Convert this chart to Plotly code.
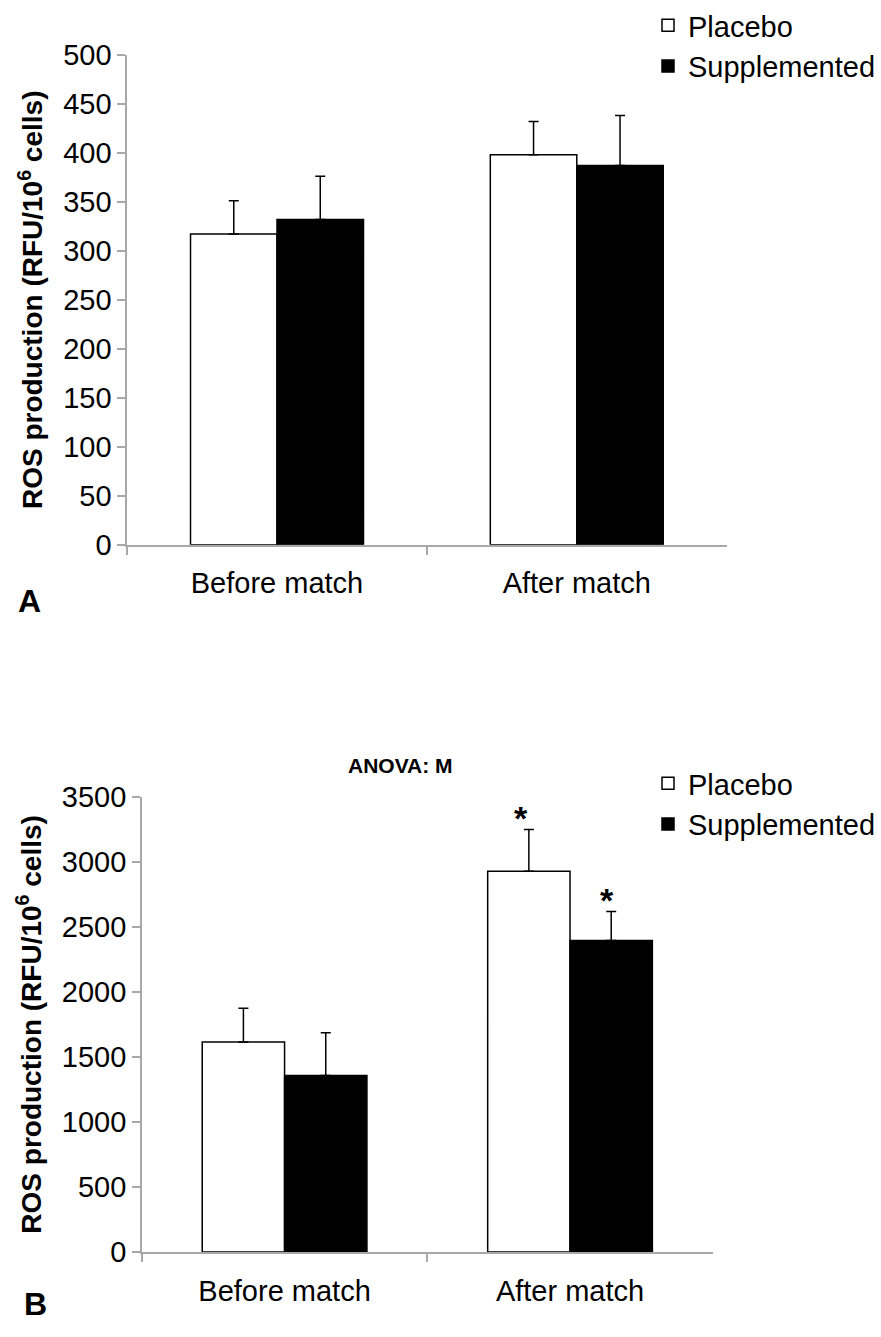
import plotly.graph_objects as go

W, H = 881, 1337

categories = ["Before match", "After match"]
series_names = ["Placebo", "Supplemented"]

# Panel A
a_placebo = [317, 398]
a_placebo_err = [34, 34]
a_supp = [332, 387]
a_supp_err = [44, 51]

# Panel B
b_placebo = [1614, 2927]
b_placebo_err = [261, 321]
b_supp = [1357, 2395]
b_supp_err = [329, 222]
b_significant_placebo = [False, True]
b_significant_supp = [False, True]

a_ticks = [0, 50, 100, 150, 200, 250, 300, 350, 400, 450, 500]
b_ticks = [0, 500, 1000, 1500, 2000, 2500, 3000, 3500]

FONT = "Liberation Sans, Arial, Helvetica, sans-serif"
AXIS_GRAY = "#a8a8a8"
FS = 29

def px_x(p):
    return p / W

def px_y(p):
    return 1 - p / H

fig = go.Figure()

def add_pair(xa, ya, plac, plac_err, supp, supp_err, legend):
    fig.add_trace(go.Bar(
        x=categories, y=plac, name=series_names[0],
        marker=dict(color="white", line=dict(color="black", width=1.5)),
        error_y=dict(type="data", array=plac_err, arrayminus=[0] * len(plac),
                     symmetric=False, color="black", thickness=1.5, width=5),
        xaxis=xa, yaxis=ya, legend=legend,
    ))
    fig.add_trace(go.Bar(
        x=categories, y=supp, name=series_names[1],
        marker=dict(color="black", line=dict(color="black", width=1.5)),
        error_y=dict(type="data", array=supp_err, arrayminus=[0] * len(supp),
                     symmetric=False, color="black", thickness=1.5, width=5),
        xaxis=xa, yaxis=ya, legend=legend,
    ))

add_pair("x", "y", a_placebo, a_placebo_err, a_supp, a_supp_err, "legend")
add_pair("x2", "y2", b_placebo, b_placebo_err, b_supp, b_supp_err, "legend2")

ytitle = "<b>ROS production (RFU/10<sup>6</sup> cells)</b>"

common_x = dict(
    type="category", showline=True, linecolor=AXIS_GRAY, linewidth=1.5,
    ticks="outside", tickson="boundaries", ticklen=8, tickcolor=AXIS_GRAY,
    tickwidth=1.5, showgrid=False, zeroline=False, ticklabelstandoff=12,
    tickfont=dict(family=FONT, size=FS, color="black"),
)
common_y = dict(
    showline=True, linecolor=AXIS_GRAY, linewidth=1.5,
    ticks="outside", ticklen=8, tickcolor=AXIS_GRAY, tickwidth=1.5,
    showgrid=False, zeroline=False,
    tickfont=dict(family=FONT, size=FS, color="black"),
    title=dict(text=ytitle, font=dict(family=FONT, size=28, color="black"), standoff=12),
)

fig.update_layout(
    width=W, height=H,
    margin=dict(l=0, r=0, t=0, b=0),
    paper_bgcolor="white", plot_bgcolor="white",
    barmode="group", bargap=0.423, bargroupgap=0,
    font=dict(family=FONT, color="black"),
    xaxis=dict(domain=[px_x(127.7), px_x(730)], anchor="y", **common_x),
    yaxis=dict(domain=[px_y(537.5), px_y(32.7)], anchor="x", range=[0, 500],
               tickvals=a_ticks, **common_y),
    xaxis2=dict(domain=[px_x(142.5), px_x(716)], anchor="y2", **common_x),
    yaxis2=dict(domain=[px_y(1266), px_y(797)], anchor="x2", range=[0, 3500],
                tickvals=b_ticks, **common_y),
    legend=dict(x=px_x(651), y=px_y(-24), xanchor="left", yanchor="top",
                font=dict(family=FONT, size=FS, color="black"),
                bgcolor="rgba(0,0,0,0)", traceorder="normal"),
    legend2=dict(x=px_x(651), y=px_y(757), xanchor="left", yanchor="top",
                 font=dict(family=FONT, size=FS, color="black"),
                 bgcolor="rgba(0,0,0,0)", traceorder="normal"),
    showlegend=True,
)

annotations = [
    dict(text="<b>A</b>", x=px_x(30), y=px_y(595), xref="paper", yref="paper",
         showarrow=False, font=dict(family=FONT, size=32, color="black"),
         xanchor="center", yanchor="middle"),
    dict(text="<b>B</b>", x=px_x(36), y=px_y(1320), xref="paper", yref="paper",
         showarrow=False, font=dict(family=FONT, size=32, color="black"),
         xanchor="center", yanchor="middle"),
    dict(text="<b>ANOVA: M</b>", x=px_x(402), y=px_y(765), xref="paper", yref="paper",
         showarrow=False, font=dict(family=FONT, size=21, color="black"),
         xanchor="center", yanchor="middle"),
]

for cat, v, e, sig in zip(categories, b_placebo, b_placebo_err, b_significant_placebo):
    if sig:
        annotations.append(dict(text="<b>*</b>", x=cat, y=v + e, xref="x2", yref="y2",
                                showarrow=False, xshift=-49, yshift=12,
                                font=dict(family=FONT, size=34, color="black"),
                                xanchor="center", yanchor="middle"))
for cat, v, e, sig in zip(categories, b_supp, b_supp_err, b_significant_supp):
    if sig:
        annotations.append(dict(text="<b>*</b>", x=cat, y=v + e, xref="x2", yref="y2",
                                showarrow=False, xshift=37, yshift=12,
                                font=dict(family=FONT, size=34, color="black"),
                                xanchor="center", yanchor="middle"))

fig.update_layout(annotations=annotations)

fig.write_html("out.html")
